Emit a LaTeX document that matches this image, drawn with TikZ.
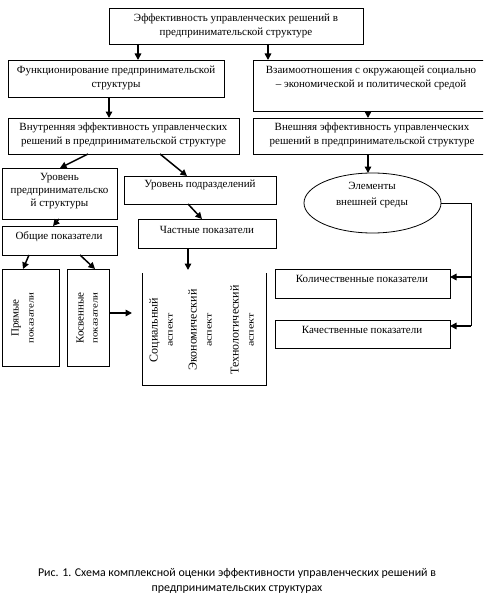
\documentclass[tikz,border=0pt]{standalone}
\usepackage{fontspec}
\setmainfont{Liberation Serif}
\newfontfamily\capfont{Carlito}
\usetikzlibrary{arrows.meta,shapes.geometric,calc}
\tikzset{
  box/.style={draw, line width=0.8pt, inner sep=0pt, outer sep=0pt},
  frame/.style={inner sep=0pt, outer sep=0pt},
  txt/.style={align=center, inner sep=0pt, font=\fontsize{11}{14}\selectfont},
  rot/.style={rotate=90, align=center, inner sep=0pt, font=\fontsize{12}{15}\selectfont},
  arr/.style={line width=1.5pt, -{Triangle[length=6.5pt,width=6.5pt]}},
  ln/.style={line width=0.8pt},
  captxt/.style={align=center, inner sep=0pt, font=\capfont\fontsize{11.9}{15}\selectfont}
}
\newcommand{\smallrot}[2]{\scalebox{#1}[1]{\fontsize{9}{15}\selectfont #2}}
\begin{document}
\begin{tikzpicture}[x=1pt,y=-1pt]
\useasboundingbox (0,0) rectangle (483,602);
\clip (0,0) rectangle (483,602);
% boxes
\node[box, minimum width=254pt, minimum height=36pt] (top) at (236,26) {};
\node[box, minimum width=216pt, minimum height=37pt] (func) at (116,78.5) {};
\node[box, minimum width=237pt, minimum height=51pt] (vzaim) at (371.5,85.5) {};
\node[box, minimum width=231pt, minimum height=36pt] (vnutr) at (123.5,136) {};
\node[box, minimum width=237pt, minimum height=36pt] (vnesh) at (371.5,136) {};
\node[box, minimum width=115pt, minimum height=51pt] (urpred) at (59.5,193.5) {};
\node[box, minimum width=152pt, minimum height=28pt] (urpodr) at (200,190) {};
\node[box, minimum width=115pt, minimum height=29pt] (obsh) at (59.5,240.5) {};
\node[box, minimum width=138pt, minimum height=29pt] (chast) at (207,233.5) {};
\node[box, minimum width=57pt, minimum height=97pt] (pryam) at (30.5,317.5) {};
\node[box, minimum width=42pt, minimum height=97pt] (kosv) at (88,317.5) {};
\node[frame, minimum width=124pt, minimum height=112pt] (asp) at (204,329) {};
\draw[ln] (asp.north west) |- (asp.south east) -- (asp.north east);
\node[box, ellipse, minimum width=137pt, minimum height=60pt] (ell) at (372.5,203) {};
\node[box, minimum width=175pt, minimum height=29pt] (kol) at (362.5,283.5) {};
\node[box, minimum width=175pt, minimum height=28pt] (kach) at (362.5,334) {};
% texts
\node[txt] (t-top) at (236,25.5) {Эффективность управленческих решений в\\предпринимательской структуре};
\node[txt] (t-func) at (116,78) {Функционирование предпринимательской\\структуры};
\node[txt] (t-vzaim) at (371,78) {Взаимоотношения с окружающей социально\\– экономической и политической средой};
\node[txt] (t-vnutr) at (123.5,135) {Внутренняя эффективность управленческих\\решений в предпринимательской структуре};
\node[txt] (t-vnesh) at (372,135) {Внешняя эффективность управленческих\\решений в предпринимательской структуре};
\node[txt, font=\fontsize{11}{13}\selectfont] (t-urpred) at (59.5,191) {Уровень\\предпринимательско\\й структуры};
\node[txt] (t-urpodr) at (200,185) {Уровень подразделений};
\node[txt] (t-obsh) at (59,237) {Общие показатели};
\node[txt] (t-chast) at (207,230) {Частные показатели};
\node[txt, font=\fontsize{11}{16}\selectfont] (t-ell) at (372,195) {Элементы\\внешней среды};
\node[txt] (t-kol) at (362,279) {Количественные показатели};
\node[txt] (t-kach) at (362,330) {Качественные показатели};
\node[rot, font=\fontsize{11}{15}\selectfont] (t-pryam) at (22.5,318) {Прямые\\\smallrot{1.2}{показатели}};
\node[rot, font=\fontsize{11}{14}\selectfont] (t-kosv) at (87,318) {Косвенные\\\smallrot{1.2}{показатели}};
\node[rot] (t-soc) at (161,330) {Социальный\\\smallrot{1.35}{аспект}};
\node[rot] (t-econ) at (200,330) {Экономический\\\smallrot{1.35}{аспект}};
\node[rot] (t-tech) at (242,330) {Технологический\\\smallrot{1.35}{аспект}};
% caption
\node[captxt] (caption) at (237,581) {Рис. 1. Схема комплексной оценки эффективности управленческих решений в\\предпринимательских структурах};
% connectors
\draw[arr] (top.south -| 138,0) -- (func.north -| 138,0);
\draw[arr] (top.south -| 268,0) -- (vzaim.north -| 268,0);
\draw[arr] (func.south -| 109,0) -- (vnutr.north -| 109,0);
\draw[arr] (vzaim.south -| 368,0) -- (vnesh.north -| 368,0);
\draw[arr] (vnutr.south -| 88,0) -- (urpred.north -| 60,0);
\draw[arr] (vnutr.south -| 160,0) -- (urpodr.north -| 187,0);
\draw[arr] (vnesh.south -| 368,0) -- (ell.north -| 368,0);
\draw[arr] (urpodr.south -| 188,0) -- (chast.north -| 202,0);
\draw[arr] (urpred.south -| 59,0) -- (obsh.north -| 53,0);
\draw[arr, shorten >=3pt] (chast.south -| 188,0) -- (asp.north -| 188,0);
\draw[arr] (obsh.south -| 29,0) -- (pryam.north -| 23,0);
\draw[arr] (obsh.south -| 80,0) -- (kosv.north -| 95,0);
\coordinate (kend) at (132,313);
\draw[arr] (kosv.east |- kend) -- (kend);
\coordinate (rline) at (471,326);
\draw[ln] (ell.east) -| (rline);
\draw[arr] (rline |- 0,277) -- (kol.east |- 0,277);
\draw[arr] (rline) -- (kach.east |- rline);
\end{tikzpicture}
\end{document}
